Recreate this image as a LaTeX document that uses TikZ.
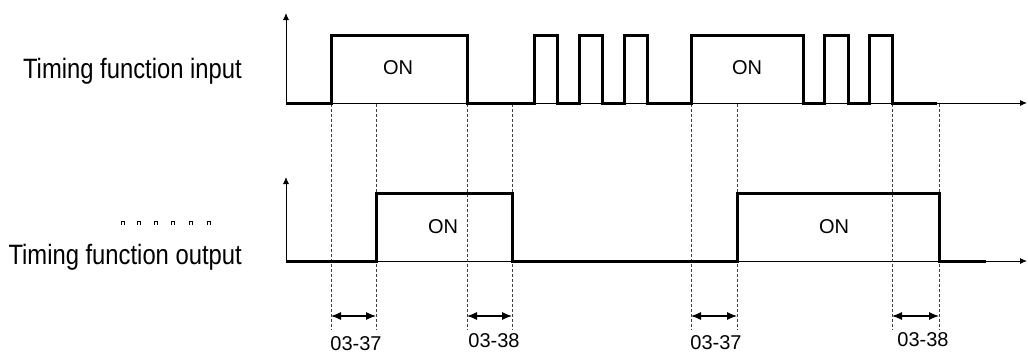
\documentclass[tikz,border=0pt]{standalone}
\usepackage{fontspec}
\usepackage{graphicx}
\setmainfont{Liberation Sans}
\usetikzlibrary{arrows.meta}
\begin{document}
\begin{tikzpicture}[x=1pt,y=-1pt,
  axis/.style={line width=0.9pt,-{Latex[length=7pt,width=6pt]}},
  sig/.style={line width=3pt,line join=miter,line cap=butt},
  guide/.style={line width=0.7pt,densely dashed,black!75},
  dim/.style={line width=1.1pt,{Latex[length=10pt,width=8pt]}-{Latex[length=10pt,width=8pt]}},
  onlbl/.style={font=\fontsize{20}{24}\selectfont,inner sep=0pt},
  numlbl/.style={font=\fontsize{20}{24}\selectfont,inner sep=0pt},
  sidelbl/.style={font=\fontsize{28}{32}\selectfont,inner sep=0pt,anchor=base east},
  tick/.style={line width=0.6pt}]
\useasboundingbox (0,0) rectangle (1028,354);
% axes
\coordinate (o1) at (286,103);
\coordinate (o2) at (286,261);
\coordinate (y1) at (286,13);
\coordinate (y2) at (286,177);
\coordinate (x1) at (1027,103);
\coordinate (x2) at (1027,261);
\draw[axis] (o1) -- (y1);
\draw[axis] (o1) -- (x1);
\draw[axis] (o2) -- (y2);
\draw[axis] (o2) -- (x2);
% guide lines
\foreach \x in {331,376,467,512,691,737,892,939}
  \draw[guide] (\x,104) -- (\x,330);
% input signal
\draw[sig] (286,103) -- (331,103) -- (331,35) -- (467,35) -- (467,103)
  -- (534,103) -- (534,35) -- (557,35) -- (557,103)
  -- (579,103) -- (579,35) -- (602,35) -- (602,103)
  -- (624,103) -- (624,35) -- (647,35) -- (647,103)
  -- (691,103) -- (691,35) -- (803,35) -- (803,103)
  -- (824,103) -- (824,35) -- (848,35) -- (848,103)
  -- (869,103) -- (869,35) -- (892,35) -- (892,103) -- (937,103);
% output signal
\draw[sig] (286,261) -- (376,261) -- (376,193) -- (512,193) -- (512,261)
  -- (737,261) -- (737,193) -- (939,193) -- (939,261) -- (986,261);
% ON labels
\node[onlbl] (on1) at (398,68) {ON};
\node[onlbl] (on2) at (747,68) {ON};
\node[onlbl] (on3) at (443,227) {ON};
\node[onlbl] (on4) at (834,227) {ON};
% dimension arrows
\coordinate (a1) at (331,316); \coordinate (b1) at (376,316);
\coordinate (a2) at (467,316); \coordinate (b2) at (512,316);
\coordinate (a3) at (691,316); \coordinate (b3) at (737,316);
\coordinate (a4) at (892,316); \coordinate (b4) at (939,316);
\draw[dim] (a1) -- (b1);
\draw[dim] (a2) -- (b2);
\draw[dim] (a3) -- (b3);
\draw[dim] (a4) -- (b4);
\node[numlbl] (t1) at (356,343.5) {03-37};
\node[numlbl] (t2) at (494,341) {03-38};
\node[numlbl] (t3) at (716,343) {03-37};
\node[numlbl] (t4) at (923,340) {03-38};
% side labels
\node[sidelbl] (lin) at (242,78) {\scalebox{0.85}[1]{Timing function input}};
\node[sidelbl] (lout) at (242,264) {\scalebox{0.85}[1]{Timing function output}};
% small marks
\foreach \x in {123,139,156,173,191,209}
  \draw[tick] (\x-1.5,224.5) -- (\x-1.5,221.5) -- (\x+1.5,221.5) -- (\x+1.5,224.5);
\end{tikzpicture}
\end{document}
